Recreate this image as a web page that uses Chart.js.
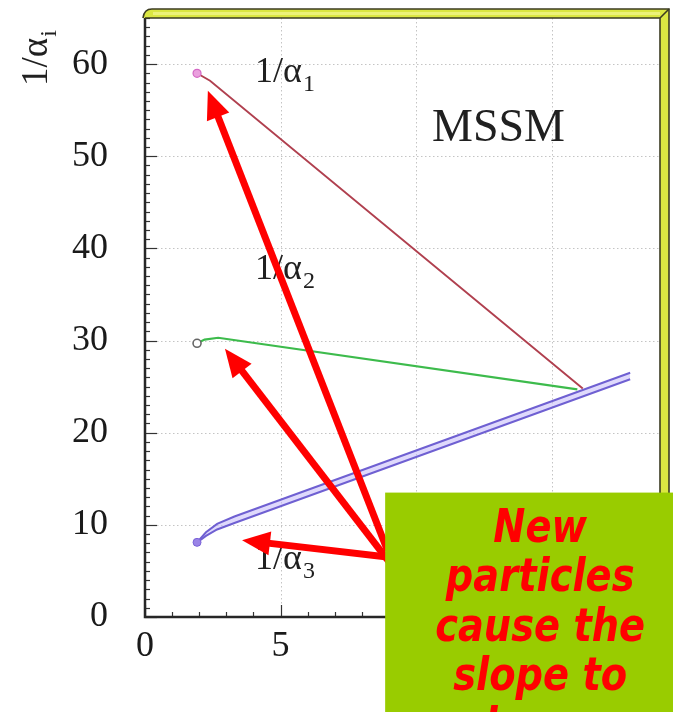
<!DOCTYPE html>
<html>
<head>
<meta charset="utf-8">
<script src="https://cdn.jsdelivr.net/npm/chart.js@4.4.1/dist/chart.umd.min.js"></script>
<style>
  html, body { margin: 0; padding: 0; background: #ffffff; }
  #wrap { width: 673px; height: 712px; }
</style>
</head>
<body>
<div id="wrap"><canvas id="c" width="673" height="712"></canvas></div>
<script>
// Running of the inverse gauge couplings in the MSSM, 1/alpha_i versus log10(Q)
const alpha1X = [1.92, 2.4, 16.15];
const alpha1Y = [59.0, 58.2, 24.8];

const alpha2X = [1.92, 2.2, 2.7, 15.95];
const alpha2Y = [29.7, 30.1, 30.3, 24.7];

// 1/alpha_3 is drawn as a narrow band (upper and lower edge)
const alpha3X = [1.92, 2.25, 2.66, 3.3, 17.9];
const alpha3UpperY = [8.1, 9.2, 10.1, 10.9, 26.5];
const alpha3LowerY = [8.1, 8.8, 9.5, 10.2, 25.8];

const xTickValues = [0, 5, 10, 15];
const yTickValues = [0, 10, 20, 30, 40, 50, 60];

// curve labels: text, subscript, x, y (data units)
const curveLabels = [
  ['1/\u03b1', '1', 4.06, 58.05],
  ['1/\u03b1', '2', 4.06, 36.7],
  ['1/\u03b1', '3', 4.06, 5.2]
];
const modelLabel = ['MSSM', 10.59, 51.66];

// annotation arrows: tip (x, y) and tail (x, y) in data units
const arrowTipX = [2.32, 2.95, 3.58];
const arrowTipY = [57.1, 29.1, 8.34];
const arrowTailX = [8.95, 9.0, 9.25];
const arrowTailY = [7.2, 6.0, 6.4];

// note box corner (data units) and its text lines
const noteCorner = [8.86, 13.5];
const noteLines = ['New', 'particles', 'cause the', 'slope to', 'change'];

function pts(xs, ys) { return xs.map((x, i) => ({ x: x, y: ys[i] })); }

const serif = '"Liberation Serif", "Times New Roman", serif';

const decor = {
  id: 'decor',
  beforeDatasetsDraw(chart) {
    const { ctx, chartArea: a, scales: { x, y } } = chart;
    ctx.save();
    // dotted grid at major ticks
    ctx.strokeStyle = '#c4c4c4';
    ctx.lineWidth = 1;
    ctx.setLineDash([1.5, 2.5]);
    yTickValues.forEach(v => {
      if (v === 0) return;
      const py = Math.round(y.getPixelForValue(v)) + 0.5;
      ctx.beginPath(); ctx.moveTo(a.left, py); ctx.lineTo(a.right, py); ctx.stroke();
    });
    xTickValues.forEach(v => {
      if (v === 0) return;
      const px = Math.round(x.getPixelForValue(v)) + 0.5;
      ctx.beginPath(); ctx.moveTo(px, a.top); ctx.lineTo(px, a.bottom); ctx.stroke();
    });
    ctx.setLineDash([]);
    // inward tick marks
    ctx.strokeStyle = '#333';
    ctx.lineWidth = 1.2;
    for (let v = 0; v <= y.max; v += 1) {
      const py = Math.round(y.getPixelForValue(v)) + 0.5;
      const len = v % 10 === 0 ? 12 : 5;
      ctx.beginPath(); ctx.moveTo(a.left, py); ctx.lineTo(a.left + len, py); ctx.stroke();
    }
    for (let v = 0; v <= x.max; v += 1) {
      const px = Math.round(x.getPixelForValue(v)) + 0.5;
      const len = v % 5 === 0 ? 12 : 5;
      ctx.beginPath(); ctx.moveTo(px, a.bottom); ctx.lineTo(px, a.bottom - len); ctx.stroke();
    }
    // axis lines
    ctx.strokeStyle = '#262626';
    ctx.lineWidth = 2.5;
    ctx.beginPath();
    ctx.moveTo(a.left, a.top);
    ctx.lineTo(a.left, a.bottom);
    ctx.lineTo(a.right, a.bottom);
    ctx.stroke();
    ctx.restore();
  },
  afterDatasetsDraw(chart) {
    const { ctx, chartArea: a, scales: { x, y } } = chart;
    ctx.save();

    // curve labels with subscripts
    ctx.fillStyle = '#202020';
    ctx.textBaseline = 'alphabetic';
    ctx.textAlign = 'left';
    curveLabels.forEach(([t, sub, lx, ly]) => {
      const px = x.getPixelForValue(lx), py = y.getPixelForValue(ly);
      ctx.font = '36px ' + serif;
      ctx.fillText(t, px, py);
      const w = ctx.measureText(t).width;
      ctx.font = '24px ' + serif;
      ctx.fillText(sub, px + w + 1, py + 9);
    });
    ctx.font = '46px ' + serif;
    ctx.fillText(modelLabel[0], x.getPixelForValue(modelLabel[1]), y.getPixelForValue(modelLabel[2]));

    // red annotation arrows
    ctx.fillStyle = '#ff0000';
    ctx.strokeStyle = '#ff0000';
    ctx.lineWidth = 7;
    ctx.lineCap = 'butt';
    arrowTipX.forEach((tx, i) => {
      const x1 = x.getPixelForValue(arrowTailX[i]), y1 = y.getPixelForValue(arrowTailY[i]);
      const x2 = x.getPixelForValue(tx), y2 = y.getPixelForValue(arrowTipY[i]);
      const ang = Math.atan2(y2 - y1, x2 - x1);
      const hl = 28, hw = 12;
      const bx = x2 - hl * Math.cos(ang), by = y2 - hl * Math.sin(ang);
      ctx.beginPath(); ctx.moveTo(x1, y1); ctx.lineTo(bx + 2 * Math.cos(ang), by + 2 * Math.sin(ang)); ctx.stroke();
      ctx.beginPath();
      ctx.moveTo(x2, y2);
      ctx.lineTo(bx + hw * Math.sin(ang), by - hw * Math.cos(ang));
      ctx.lineTo(bx - hw * Math.sin(ang), by + hw * Math.cos(ang));
      ctx.closePath();
      ctx.fill();
    });

    // raised yellow frame along the top and right of the plot
    const t = 9;
    ctx.fillStyle = '#dbe742';
    ctx.beginPath();
    ctx.moveTo(a.left - 2, a.top);
    ctx.quadraticCurveTo(a.left - 1, a.top - t, a.left + 7, a.top - t);
    ctx.lineTo(a.right + t, a.top - t);
    ctx.lineTo(a.right + t, chart.height);
    ctx.lineTo(a.right, chart.height);
    ctx.lineTo(a.right, a.top);
    ctx.closePath();
    ctx.fill();
    ctx.fillStyle = '#ecf27a';
    ctx.fillRect(a.left + 8, a.top - t + 3, a.right - a.left - 8, 3);
    ctx.strokeStyle = '#3b3b22';
    ctx.lineWidth = 1.6;
    ctx.beginPath();
    ctx.moveTo(a.left - 2, a.top);
    ctx.quadraticCurveTo(a.left - 1, a.top - t, a.left + 7, a.top - t);
    ctx.lineTo(a.right + t, a.top - t);
    ctx.lineTo(a.right + t, chart.height);
    ctx.stroke();
    ctx.beginPath();
    ctx.moveTo(a.left, a.top);
    ctx.lineTo(a.right, a.top);
    ctx.lineTo(a.right, chart.height);
    ctx.stroke();
    ctx.beginPath();
    ctx.moveTo(a.right, a.top);
    ctx.lineTo(a.right + t, a.top - t);
    ctx.stroke();

    // y-axis title 1/alpha_i
    ctx.save();
    ctx.translate(47, 86);
    ctx.rotate(-Math.PI / 2);
    ctx.fillStyle = '#202020';
    ctx.font = '37px ' + serif;
    ctx.fillText('1/\u03b1', 0, 0);
    const tw = ctx.measureText('1/\u03b1').width;
    ctx.font = '24px ' + serif;
    ctx.fillText('i', tw + 1, 9);
    ctx.restore();

    // green note box
    const bx0 = x.getPixelForValue(noteCorner[0]);
    const by0 = y.getPixelForValue(noteCorner[1]);
    ctx.fillStyle = '#99cc00';
    ctx.fillRect(bx0, by0, chart.width - bx0, chart.height - by0);
    ctx.fillStyle = '#ff0000';
    ctx.textAlign = 'center';
    ctx.font = 'italic bold 40px "DejaVu Sans", sans-serif';
    const cx = bx0 + 155;
    noteLines.forEach((line, i) => {
      ctx.save();
      ctx.translate(cx, by0 + 49 + i * 49.5);
      ctx.scale(0.96, 1.15);
      ctx.fillText(line, 0, 0);
      ctx.restore();
    });
    ctx.restore();
  }
};

const markerRadius = r => (c => c.dataIndex === 0 ? r : 0);

new Chart(document.getElementById('c'), {
  type: 'scatter',
  data: {
    datasets: [
      {
        label: '1/alpha1',
        data: pts(alpha1X, alpha1Y),
        showLine: true,
        borderColor: '#b0404f',
        borderWidth: 1.9,
        pointRadius: markerRadius(4),
        pointBackgroundColor: '#eaa0de',
        pointBorderColor: '#d468c4',
        pointBorderWidth: 1.2
      },
      {
        label: '1/alpha2',
        data: pts(alpha2X, alpha2Y),
        showLine: true,
        borderColor: '#3dbb4c',
        borderWidth: 2.2,
        pointRadius: markerRadius(4),
        pointBackgroundColor: '#ffffff',
        pointBorderColor: '#666666',
        pointBorderWidth: 1.6
      },
      {
        label: '1/alpha3 upper',
        data: pts(alpha3X, alpha3UpperY),
        showLine: true,
        borderColor: '#6f60d2',
        borderWidth: 2,
        pointRadius: markerRadius(4),
        pointBackgroundColor: '#9a84e6',
        pointBorderColor: '#7a62d8',
        pointBorderWidth: 1
      },
      {
        label: '1/alpha3 lower',
        data: pts(alpha3X, alpha3LowerY),
        showLine: true,
        borderColor: '#6f60d2',
        borderWidth: 2,
        backgroundColor: 'rgba(196, 186, 250, 0.55)',
        fill: '-1',
        pointRadius: 0
      }
    ]
  },
  options: {
    responsive: false,
    devicePixelRatio: 1,
    animation: false,
    layout: { padding: { left: 0, top: 18, right: 13, bottom: 0 } },
    plugins: { legend: { display: false }, tooltip: { enabled: false } },
    elements: { line: { tension: 0 } },
    scales: {
      x: {
        type: 'linear',
        min: 0,
        max: 19,
        grid: { display: false },
        border: { display: false },
        afterBuildTicks: s => { s.ticks = xTickValues.map(v => ({ value: v })); },
        afterFit: s => { s.height = 95; s.paddingLeft = 0; s.paddingRight = 0; s.paddingTop = 0; s.paddingBottom = 0; },
        ticks: {
          padding: 0,
          maxRotation: 0,
          color: '#1a1a1a',
          font: { family: serif, size: 36 }
        }
      },
      y: {
        type: 'linear',
        min: 0,
        max: 65,
        grid: { display: false },
        border: { display: false },
        afterBuildTicks: s => { s.ticks = yTickValues.map(v => ({ value: v })); },
        afterFit: s => { s.width = 145; s.paddingLeft = 0; s.paddingRight = 0; s.paddingTop = 0; s.paddingBottom = 0; },
        ticks: {
          padding: 29,
          color: '#1a1a1a',
          font: { family: serif, size: 36 }
        }
      }
    }
  },
  plugins: [decor]
});
</script>
</body>
</html>
